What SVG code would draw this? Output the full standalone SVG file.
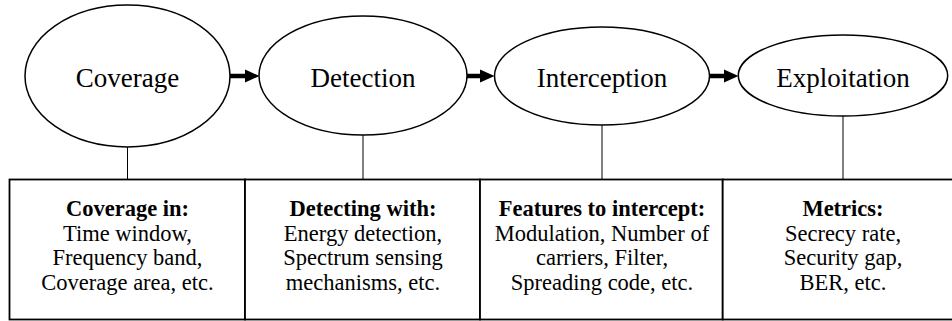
<svg xmlns="http://www.w3.org/2000/svg" width="952" height="321" viewBox="0 0 952 321">
<defs>
<style>
.ell{fill:#fff;stroke:#000;stroke-width:1.5}
.lbl{font-family:"Liberation Serif","Times New Roman",serif;font-size:27px;fill:#000;text-anchor:middle}
.tx{font-family:"Liberation Serif","Times New Roman",serif;font-size:22.5px;fill:#000;text-anchor:middle}
.b{font-weight:bold}
.conn{stroke:#000;stroke-width:1}
.shaft{stroke:#000;stroke-width:4.5;fill:none}
.head{fill:#000}
.box{fill:#fff;stroke:#000;stroke-width:1.8}
</style>
</defs>
<rect width="952" height="321" fill="#fff"/>
<g id="connectors">
<line class="conn" x1="127.5" y1="147" x2="127.5" y2="179.5"/>
<line class="conn" x1="363" y1="135" x2="363" y2="179.5"/>
<line class="conn" x1="602" y1="125" x2="602" y2="179.5"/>
<line class="conn" x1="843" y1="116" x2="843" y2="179.5"/>
<line class="shaft" x1="229" y1="76" x2="246" y2="76"/>
<polygon class="head" points="245,69.5 259.5,76 245,82.5"/>
<line class="shaft" x1="466" y1="76" x2="481" y2="76"/>
<polygon class="head" points="480,69.5 494.5,76 480,82.5"/>
<line class="shaft" x1="709" y1="76" x2="725" y2="76"/>
<polygon class="head" points="724,69.5 738.5,76 724,82.5"/>
</g>
<g id="node-coverage">
<ellipse class="ell" cx="127.5" cy="76" rx="102.5" ry="71"/>
<text class="lbl" x="127.5" y="87">Coverage</text>
</g>
<g id="node-detection">
<ellipse class="ell" cx="363" cy="75.5" rx="104" ry="59.5"/>
<text class="lbl" x="363" y="87">Detection</text>
</g>
<g id="node-interception">
<ellipse class="ell" cx="602" cy="76" rx="107.5" ry="49"/>
<text class="lbl" x="602" y="87">Interception</text>
</g>
<g id="node-exploitation">
<ellipse class="ell" cx="843" cy="75.5" rx="104.7" ry="40.5"/>
<text class="lbl" x="843" y="87">Exploitation</text>
</g>
<g id="box-coverage">
<rect class="box" x="9.5" y="179.5" width="235.5" height="140"/>
<text class="tx b" x="127.5" y="216">Coverage in:</text>
<text class="tx" x="127.5" y="240.5">Time window,</text>
<text class="tx" x="127.5" y="265">Frequency band,</text>
<text class="tx" x="127.5" y="289.5">Coverage area, etc.</text>
</g>
<g id="box-detection">
<rect class="box" x="245" y="179.5" width="235" height="140"/>
<text class="tx b" x="363" y="216">Detecting with:</text>
<text class="tx" x="363" y="240.5">Energy detection,</text>
<text class="tx" x="363" y="265">Spectrum sensing</text>
<text class="tx" x="363" y="289.5">mechanisms, etc.</text>
</g>
<g id="box-interception">
<rect class="box" x="480" y="179.5" width="242.7" height="140"/>
<text class="tx b" x="602" y="216">Features to intercept:</text>
<text class="tx" x="602" y="240.5">Modulation, Number of</text>
<text class="tx" x="602" y="265">carriers, Filter,</text>
<text class="tx" x="602" y="289.5">Spreading code, etc.</text>
</g>
<g id="box-exploitation">
<rect class="box" x="722.7" y="179.5" width="240" height="140"/>
<text class="tx b" x="843" y="216">Metrics:</text>
<text class="tx" x="843" y="240.5">Secrecy rate,</text>
<text class="tx" x="843" y="265">Security gap,</text>
<text class="tx" x="843" y="289.5">BER, etc.</text>
</g>
</svg>
